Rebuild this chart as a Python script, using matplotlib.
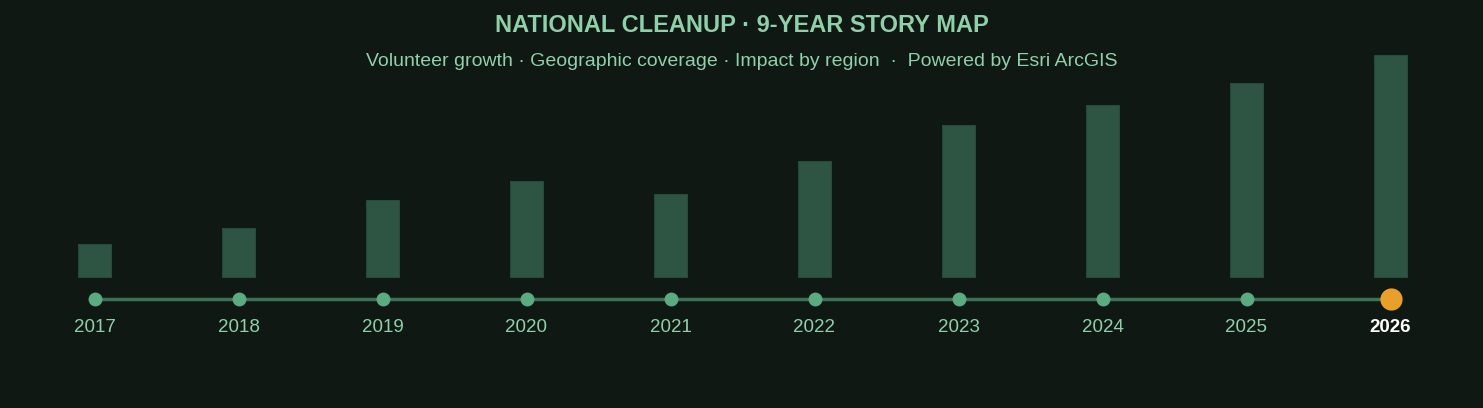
import numpy as np
import matplotlib
matplotlib.use("Agg")
import matplotlib.pyplot as plt

# relative volunteer activity per year (2026 = 100)
years = ["2017", "2018", "2019", "2020", "2021", "2022", "2023", "2024", "2025", "2026"]
activity = [14.9, 22.1, 34.7, 43.3, 37.5, 52.3, 68.6, 77.4, 87.5, 100.0]
current_year = "2026"

title = "NATIONAL CLEANUP \u00b7 9-YEAR STORY MAP"
subtitle = ("Volunteer growth \u00b7 Geographic coverage \u00b7 Impact by region  \u00b7  "
            "Powered by Esri ArcGIS")

BG = "#0f1812"
BAR = "#2e5443"
DOT = "#5aab80"
LINE = "#3b7255"
TEXT = "#8fd0ab"
ORANGE = "#e8a02a"

plt.rcParams["font.family"] = ["Liberation Sans", "DejaVu Sans"]

W, H = 1483, 408
fig = plt.figure(figsize=(W / 100, H / 100), dpi=100, facecolor=BG)
ax = fig.add_axes([0, 0, 1, 1])
ax.set_facecolor(BG)

# layout in pixels: first year at x=94.5, step 144; bar base at y=277, 100 -> 221.6 px
x0, step = 94.5, 144.0
base_px, full_px = 277.0, 221.6
unit = full_px / 100.0
ax.set_xlim(-x0 / step, (W - x0) / step)
ax.set_ylim(-(H - base_px) / unit, base_px / unit)
ax.axis("off")

xs = np.arange(len(years))
ax.bar(xs, activity, width=33 / step, color=BAR, edgecolor="#284a3a", linewidth=0.8)

line_y = -(299 - base_px) / unit
label_y = -(327 - base_px) / unit
ax.plot([xs[0], xs[-1]], [line_y, line_y], color=LINE, lw=2.5, zorder=2,
        solid_capstyle="butt")
for i, yr in enumerate(years):
    if yr == current_year:
        ax.plot(i, line_y, "o", ms=16, color=ORANGE, mec="none", zorder=3)
        ax.text(i, label_y, yr, ha="center", va="center",
                fontsize=13.5, fontweight="bold", color="white")
    else:
        ax.plot(i, line_y, "o", ms=10, color=DOT, mec="none", zorder=3)
        ax.text(i, label_y, yr, ha="center", va="center",
                fontsize=13.5, color=TEXT)

fig.text(0.5, 1 - 26 / H, title, ha="center", va="center", fontsize=17,
         fontweight="bold", color=TEXT)
fig.text(0.5, 1 - 61 / H, subtitle, ha="center", va="center", fontsize=14,
         color=TEXT)

fig.savefig("out.png", dpi=100, facecolor=BG)
